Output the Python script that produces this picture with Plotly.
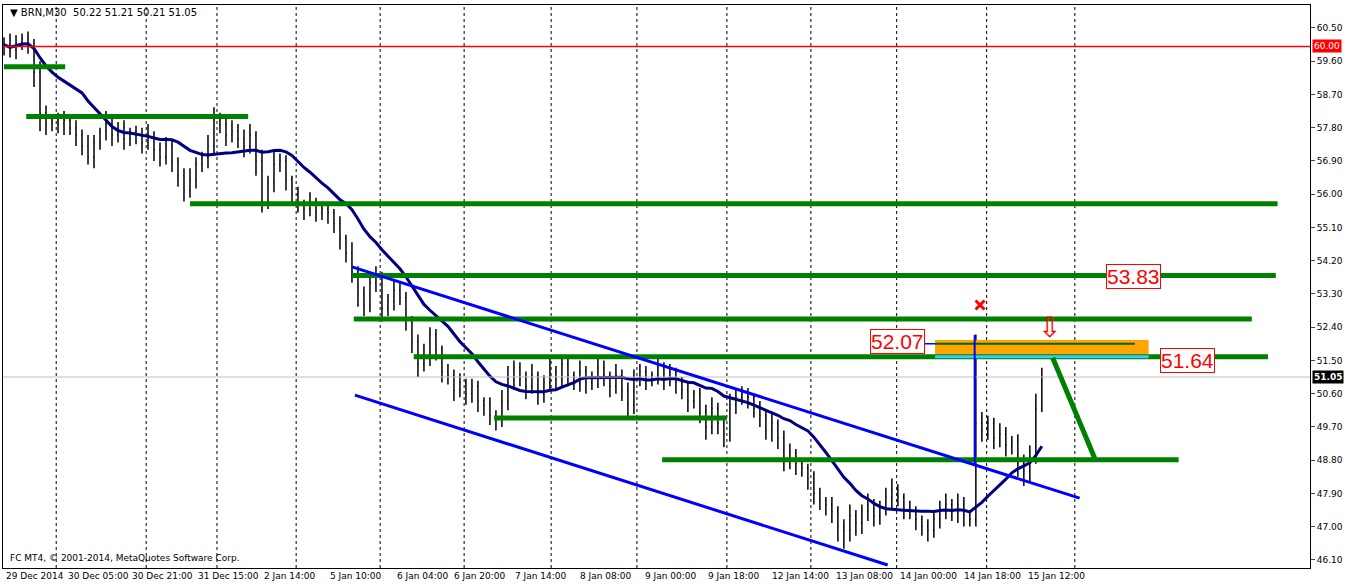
import plotly.graph_objects as go
import pandas as pd

# ---- data ----
closes = [60.05,59.9,60.1,60.2,60.1,59.3,58.2,57.9,58.0,57.9,58.0,57.8,57.6,57.3,57.0,57.4,57.7,57.9,57.6,57.8,
          57.5,57.7,57.6,57.4,57.6,57.2,57.0,57.3,56.9,56.5,56.1,56.4,56.8,57.0,57.3,58.0,57.9,57.6,57.7,57.5,
          57.3,57.6,56.9,55.8,56.3,56.8,56.9,56.4,56.0,55.7,55.6,55.8,55.5,55.6,55.5,55.2,54.8,54.4,53.9,53.3,
          53.0,53.6,53.8,52.9,53.1,53.4,53.2,52.6,52.0,51.4,51.6,52.2,51.8,51.2,51.1,50.7,50.9,50.6,50.8,50.4,
          50.3,50.0,49.9,50.4,51.0,51.3,51.0,50.8,51.1,50.6,50.9,51.2,51.0,51.4,51.1,50.9,51.2,50.9,51.0,51.3,
          51.1,50.8,51.1,50.7,50.3,51.0,51.2,51.0,51.1,51.3,51.0,51.2,50.9,50.7,50.4,50.6,50.1,49.7,50.2,49.8,
          49.5,50.3,50.5,50.6,50.5,50.2,50.0,49.6,49.8,49.4,48.8,49.0,48.7,48.6,48.3,47.9,47.7,47.6,47.4,47.0,
          46.9,47.3,47.1,47.4,47.6,47.3,47.5,47.8,48.0,47.8,47.5,47.4,47.2,47.0,46.9,47.2,47.5,47.6,47.4,47.6,
          47.3,47.2,49.8,49.6,49.8,49.4,49.5,49.2,49.3,48.7,48.5,48.9,50.2,51.05]
wick_up = [0.2,0.3,0.2,0.15,0.2,0.1,0.3,0.2,0.15,0.2,0.25,0.1,0.2,0.15,0.3,0.2,0.1,0.35,0.2,0.15,
           0.2,0.1,0.15,0.2,0.3,0.1,0.2,0.25,0.15,0.1,0.2,0.3,0.2,0.15,0.3,0.35,0.2,0.15,0.3,0.2,
           0.25,0.3,0.1,0.3,0.2,0.35,0.2,0.15,0.1,0.2,0.15,0.25,0.1,0.2,0.15,0.1,0.2,0.1,0.3,0.15,
           0.2,0.3,0.25,0.1,0.2,0.3,0.2,0.15,0.1,0.2,0.35,0.2,0.15,0.1,0.2,0.15,0.25,0.1,0.2,0.15,
           0.1,0.2,0.15,0.3,0.35,0.2,0.15,0.2,0.3,0.1,0.2,0.35,0.15,0.25,0.2,0.1,0.3,0.15,0.2,0.3,
           0.2,0.1,0.3,0.15,0.2,0.25,0.2,0.15,0.1,0.3,0.15,0.2,0.1,0.15,0.2,0.1,0.15,0.2,0.3,0.15,
           0.2,0.3,0.25,0.2,0.15,0.1,0.2,0.15,0.3,0.1,0.2,0.25,0.1,0.15,0.1,0.2,0.15,0.1,0.2,0.15,
           0.2,0.3,0.15,0.2,0.3,0.15,0.2,0.25,0.3,0.15,0.1,0.2,0.15,0.1,0.2,0.25,0.2,0.3,0.15,0.3,
           0.2,0.15,2.4,0.3,0.2,0.15,0.3,0.2,0.15,0.2,0.25,0.3,0.4,0.25]
wick_dn = [0.3,0.2,0.25,0.2,0.3,0.4,0.5,0.3,0.2,0.25,0.3,0.2,0.3,0.25,0.2,0.3,0.2,0.25,0.3,0.2,
           0.3,0.2,0.25,0.3,0.2,0.3,0.25,0.2,0.3,0.3,0.3,0.2,0.25,0.2,0.3,0.2,0.25,0.3,0.2,0.25,
           0.3,0.2,0.4,0.3,0.2,0.25,0.2,0.3,0.25,0.2,0.3,0.2,0.25,0.2,0.3,0.25,0.3,0.25,0.3,0.35,
           0.3,0.2,0.25,0.35,0.2,0.25,0.2,0.3,0.3,0.35,0.2,0.25,0.3,0.3,0.25,0.3,0.2,0.3,0.25,0.3,
           0.3,0.25,0.3,0.2,0.25,0.3,0.2,0.35,0.2,0.3,0.25,0.2,0.3,0.25,0.3,0.2,0.25,0.3,0.2,0.25,
           0.3,0.3,0.2,0.3,0.4,0.25,0.2,0.3,0.2,0.25,0.3,0.2,0.3,0.25,0.3,0.2,0.3,0.35,0.2,0.3,
           0.35,0.2,0.25,0.2,0.3,0.25,0.3,0.25,0.3,0.3,0.3,0.25,0.3,0.25,0.3,0.3,0.25,0.3,0.3,0.4,
           0.5,0.3,0.35,0.3,0.25,0.3,0.25,0.2,0.3,0.25,0.3,0.2,0.3,0.25,0.3,0.2,0.25,0.3,0.25,0.3,
           0.3,0.2,0.2,0.3,0.25,0.3,0.25,0.3,0.25,0.35,0.4,0.3,0.2,0.1]

y_ticks = [60.50,59.60,58.70,57.80,56.90,56.00,55.10,54.20,53.30,52.40,51.50,50.60,49.70,48.80,47.90,47.00,46.10]
x_labels = ["29 Dec 2014","30 Dec 05:00","30 Dec 21:00","31 Dec 15:00","2 Jan 14:00","5 Jan 10:00",
            "6 Jan 04:00","6 Jan 20:00","7 Jan 14:00","8 Jan 08:00","9 Jan 00:00","9 Jan 18:00",
            "12 Jan 14:00","13 Jan 08:00","14 Jan 00:00","14 Jan 18:00","15 Jan 12:00"]
x_label_pos = [0,10.3,21,32,43,54,65.2,74.7,84.8,95.7,106.5,117,127.7,138.3,149,159.7,170.3]
grid_pos = [8.7,23.7,35.5,48.7,62.7,76.7,91.2,105.5,120.5,134.5,148.8,163.8,178.5]

levels = [59.45,58.1,55.74,53.8,52.62,51.6,49.94,48.81]
level_x0 = [0,3.7,31,58,58.3,68.3,81.7,109.7]
level_x1 = [10.2,40.7,212.3,212,208,210.7,120.5,195.8]

chan_x = [[58,179.3],[58.5,147.3]]
chan_y = [[54.03,47.77],[50.56,45.96]]
diag_x = [174.8,181.8]; diag_y = [51.57,48.86]
zone_x = [155.2,190.8]; zone_y = [51.6,52.05]
resist_line = 51.95
spike_x = 161.8; spike_y = [52.19,48.7]
last_price = 51.05
red_level = 60.00

# ---- figure ----
n = len(closes)
idx = list(range(n))
opens = [closes[0]] + closes[:-1]
highs = [max(o, c) + w for o, c, w in zip(opens, closes, wick_up)]
lows = [min(o, c) - w for o, c, w in zip(opens, closes, wick_dn)]
ma = pd.Series(closes).rolling(14, min_periods=1).mean().tolist()

fig = go.Figure()
fig.add_trace(go.Ohlc(x=idx, open=opens, high=highs, low=lows, close=closes, tickwidth=0.15,
                      increasing_line_color="black", decreasing_line_color="black",
                      line_width=1.5, showlegend=False, hoverinfo="skip"))
fig.add_trace(go.Scatter(x=idx, y=ma, mode="lines", line=dict(color="#000080", width=3), showlegend=False))

shapes = []
for gx in grid_pos:
    shapes.append(dict(type="line", x0=gx, x1=gx, y0=0, y1=1, yref="paper",
                       line=dict(color="black", width=1, dash="3px,3px"), layer="below"))
shapes.append(dict(type="line", x0=0, x1=1, xref="paper", y0=red_level, y1=red_level, line=dict(color="red", width=1.5)))
shapes.append(dict(type="line", x0=0, x1=1, xref="paper", y0=last_price, y1=last_price, line=dict(color="#c0c0c0", width=1)))
shapes.append(dict(type="rect", x0=zone_x[0], x1=zone_x[1], y0=zone_y[0], y1=zone_y[1],
                   fillcolor="#FFA500", line=dict(width=0)))
for x0, x1, lv in zip(level_x0, level_x1, levels):
    shapes.append(dict(type="line", x0=x0, x1=x1, y0=lv, y1=lv, line=dict(color="#008000", width=5)))
shapes.append(dict(type="line", x0=zone_x[0], x1=zone_x[1], y0=zone_y[0], y1=zone_y[0], line=dict(color="#33CCFF", width=3)))
shapes.append(dict(type="line", x0=zone_x[0], x1=zone_x[1] - 2.3, y0=resist_line, y1=resist_line, line=dict(color="#006400", width=2)))
shapes.append(dict(type="line", x0=153.3, x1=zone_x[0], y0=resist_line, y1=resist_line, line=dict(color="#0000FF", width=1.5)))
for cx, cy in zip(chan_x, chan_y):
    shapes.append(dict(type="line", x0=cx[0], x1=cx[1], y0=cy[0], y1=cy[1], line=dict(color="#0000FF", width=3)))
shapes.append(dict(type="line", x0=diag_x[0], x1=diag_x[1], y0=diag_y[0], y1=diag_y[1], line=dict(color="#008000", width=5)))
shapes.append(dict(type="line", x0=spike_x, x1=spike_x, y0=spike_y[0], y1=spike_y[1], line=dict(color="#0000FF", width=2)))
fig.update_layout(shapes=shapes)

fig.add_trace(go.Scatter(x=[162.7], y=[53.0], mode="markers", marker=dict(symbol="x-thin", size=9, color="red",
                         line=dict(width=3, color="red")), showlegend=False))

ann = []
ann.append(dict(x=174.3, y=52.38, text="⇩", showarrow=False, font=dict(family="DejaVu Sans", size=28, color="red")))
for txt, xx, yy in [("52.07", 149, 52.0), ("51.64", 197.2, 51.51), ("53.83", 188.3, 53.76)]:
    ann.append(dict(x=xx, y=yy, text=txt, showarrow=False, font=dict(family="Liberation Sans", size=21, color="red"),
                    bgcolor="white", bordercolor="red", borderwidth=1, borderpad=0))
for txt, xp in zip(x_labels, x_label_pos):
    ann.append(dict(x=xp, y=0, yref="paper", text=txt, showarrow=False, xanchor="left", yanchor="top", yshift=-1,
                    font=dict(family="DejaVu Sans", size=9, color="black")))
ann.append(dict(x=0.004, y=1, xref="paper", yref="paper", xanchor="left", yanchor="top", showarrow=False,
                text="▼ BRN,M30  50.22 51.21 50.21 51.05", font=dict(family="DejaVu Sans", size=10, color="black")))
ann.append(dict(x=0.004, y=0.005, xref="paper", yref="paper", xanchor="left", yanchor="bottom", showarrow=False,
                text="FC MT4, © 2001-2014, MetaQuotes Software Corp.", font=dict(family="DejaVu Sans", size=9, color="black")))
ann.append(dict(x=1, xref="paper", y=red_level, xanchor="left", showarrow=False, text="60.00", bgcolor="red",
                font=dict(family="DejaVu Sans", size=9, color="white"), xshift=2, borderpad=1))
ann.append(dict(x=1, xref="paper", y=last_price, xanchor="left", showarrow=False, text="<b>51.05</b>", bgcolor="black",
                font=dict(family="DejaVu Sans", size=9, color="white"), xshift=2, borderpad=1))
fig.update_layout(annotations=ann)

fig.update_layout(width=1358, height=584, margin=dict(l=3, r=48, t=5, b=16, autoexpand=False),
                  paper_bgcolor="white", plot_bgcolor="white",
                  xaxis=dict(range=[-0.17, 217.7], showgrid=False, showticklabels=False, zeroline=False,
                             rangeslider=dict(visible=False), showline=True, linecolor="black", mirror=True),
                  yaxis=dict(range=[45.88, 61.12], side="right", tickvals=y_ticks, ticktext=[f"{v:.2f}" for v in y_ticks],
                             showgrid=False, zeroline=False, ticks="outside", ticklen=4, showline=True, linecolor="black",
                             mirror=True, tickfont=dict(family="DejaVu Sans", size=9, color="black")))
fig.write_html("out.html", config={"displayModeBar": False})

# remove default page margin so the figure sits at the window's top-left corner
with open("out.html", encoding="utf-8") as f:
    page = f.read()
page = page.replace("<body>", '<body style="margin:0;overflow:hidden">', 1)
with open("out.html", "w", encoding="utf-8") as f:
    f.write(page)
